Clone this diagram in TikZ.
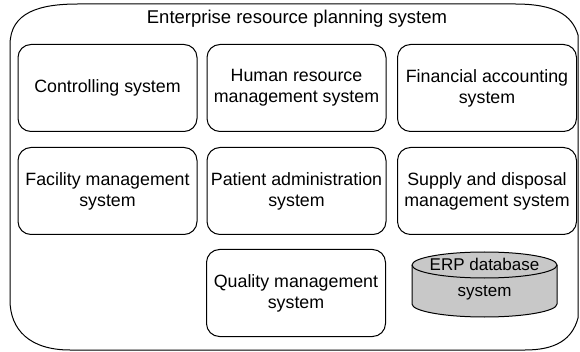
\documentclass[tikz,border=0pt]{standalone}
\usepackage{fontspec}
\setmainfont{Liberation Sans}
\usetikzlibrary{shapes.geometric,positioning}

\begin{document}
\begin{tikzpicture}[x=1pt,y=-1pt,
    subsys/.style={draw,line width=1pt,rounded corners=13pt,minimum width=179pt,minimum height=87pt,align=center,font=\fontsize{17.8}{21}\selectfont},
    dbtext/.style={align=center,font=\fontsize{17}{26}\selectfont}
  ]
    \definecolor{dbgray}{RGB}{200, 200, 200}

    \useasboundingbox (0,0) rectangle (580,352);

    % ERP frame
    \draw [line width=1pt] (10,45) .. controls (10,12) and (40,4) .. (78,4) -- (515,4)
      .. controls (555,4) and (572,15) .. (578,35) -- (578,318)
      .. controls (572,340) and (555,350) .. (525,350) -- (70,350)
      .. controls (30,350) and (10,330) .. (10,300) -- cycle;

    \node (erp) at (297,19) {\fontsize{18.5}{22}\selectfont Enterprise resource planning system};

    \node [subsys] (ctrl) at (107.5,88) {Controlling system};
    \node [subsys] (hrm) at (296.5,88) {Human resource\\management system};
    \node [subsys] (fin) at (487,88) {Financial accounting\\system};

    \node [subsys] (fac) at (107.5,191) {Facility management\\system};
    \node [subsys] (pat) at (296.5,191) {Patient administration\\system};
    \node [subsys] (sup) at (487,191) {Supply and disposal\\management system};

    \node [subsys] (qual) at (296,293) {Quality management\\system};

    % database cylinder
    \draw [line width=1pt,fill=dbgray] (412,265) -- (412,304) arc (180:0:72.5 and 13) -- (557,265) arc (0:-180:72.5 and 13) -- cycle;
    \draw [line width=1pt] (412,265) arc (180:0:72.5 and 13);
    \node [dbtext] (db) at (484.5,279.5) {ERP database\\system};
  \end{tikzpicture}
\end{document}
